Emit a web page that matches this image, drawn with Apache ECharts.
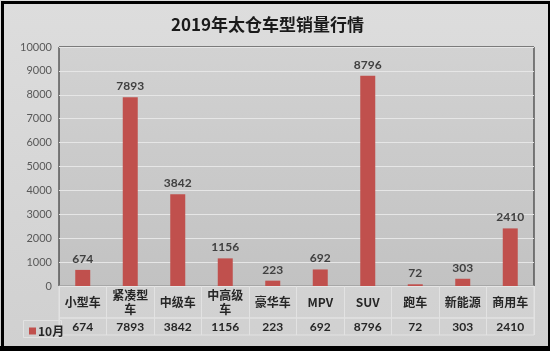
<!DOCTYPE html>
<html>
<head>
<meta charset="utf-8">
<script src="https://cdn.jsdelivr.net/npm/echarts@6/dist/echarts.min.js"></script>
<style>
  html, body { margin: 0; padding: 0; }
  #main { width: 550px; height: 351px; }
</style>
</head>
<body>
<div id="main"></div>
<script>
// 车型 / 10月销量
const categories = ['小型车', '紧凑型车', '中级车', '中高级车', '豪华车', 'MPV', 'SUV', '跑车', '新能源', '商用车'];
const sales = [674, 7893, 3842, 1156, 223, 692, 8796, 72, 303, 2410];
const seriesName = '10月';
const yTicks = { min: 0, max: 10000, interval: 1000 };

const chart = echarts.init(document.getElementById('main'));

const tableLine = '#e2e2e2';
const cjk = '"Noto Sans CJK SC", "Noto Sans", sans-serif';
const latin = 'Lato, "Noto Sans", sans-serif';

// 三个字以上的车型换行
const wrap = (s) => (s.length > 3 ? s.slice(0, 3) + '\n' + s.slice(3) : s);

const option = {
  backgroundColor: new echarts.graphic.LinearGradient(0, 0, 0, 1, [
    { offset: 0, color: '#dddddd' },
    { offset: 1, color: '#d0d0d0' }
  ]),
  title: {
    text: '2019年太仓车型销量行情',
    left: 166,
    top: 11,
    textStyle: { fontSize: 17, fontWeight: 'bold', color: '#1a1a1a', fontFamily: cjk }
  },
  legend: {
    data: [seriesName],
    left: 24,
    top: 320,
    icon: 'rect',
    itemWidth: 7,
    itemHeight: 7,
    itemGap: 2,
    textStyle: { fontSize: 12, fontWeight: 'bold', color: '#262626', fontFamily: cjk, padding: [0, 0, 0, -3] }
  },
  grid: [
    {
      left: 59, top: 47, width: 475, height: 239,
      show: true, borderColor: '#1a1a1a', borderWidth: 1,
      backgroundColor: new echarts.graphic.LinearGradient(0, 0, 0, 1, [
        { offset: 0, color: '#d2d2d2' },
        { offset: 1, color: '#c2c2c2' }
      ])
    },
    { left: 59, top: 286, width: 475, height: 32, show: true, borderColor: tableLine, borderWidth: 1 },
    { left: 59, top: 318, width: 475, height: 17, show: true, borderColor: tableLine, borderWidth: 1 }
  ],
  xAxis: [
    {
      gridIndex: 0, type: 'category', data: categories,
      axisLine: { show: false }, axisTick: { show: false }, axisLabel: { show: false }
    },
    {
      gridIndex: 1, type: 'category', data: categories, position: 'top',
      axisLine: { show: false }, axisTick: { show: false },
      splitLine: { show: true, interval: 0, lineStyle: { color: tableLine } },
      axisLabel: {
        inside: true, interval: 0, margin: 16, verticalAlign: 'middle',
        formatter: wrap, fontSize: 12, lineHeight: 14, fontWeight: 'bold',
        color: '#262626', fontFamily: cjk
      }
    },
    {
      gridIndex: 2, type: 'category', data: sales.map(String), position: 'bottom',
      axisLine: { show: false }, axisTick: { show: false },
      splitLine: { show: true, interval: 0, lineStyle: { color: tableLine } },
      axisLabel: {
        inside: true, interval: 0, margin: 8, verticalAlign: 'middle',
        fontSize: 12, fontWeight: 'bold', color: '#262626', fontFamily: latin
      }
    }
  ],
  yAxis: [
    {
      gridIndex: 0, type: 'value', min: yTicks.min, max: yTicks.max, interval: yTicks.interval,
      axisLine: { show: false }, axisTick: { show: false },
      splitLine: { lineStyle: { color: '#e6e6e6', width: 1 } },
      axisLabel: {
        fontSize: 11, color: '#595959', margin: 7, fontFamily: latin,
        formatter: (v) => String(v)
      }
    },
    { gridIndex: 1, type: 'value', show: false },
    { gridIndex: 2, type: 'value', show: false }
  ],
  series: [
    {
      name: seriesName,
      type: 'bar',
      xAxisIndex: 0,
      yAxisIndex: 0,
      data: sales,
      barWidth: 15,
      itemStyle: { color: '#c0504d' },
      label: {
        show: true, position: 'top', distance: 5,
        fontSize: 12, fontWeight: 'bold', color: '#404040', fontFamily: latin
      }
    }
  ],
  graphic: [
    {
      type: 'rect', left: 21, top: 318, silent: true,
      shape: { width: 38, height: 17 },
      style: { fill: 'none', stroke: tableLine, lineWidth: 1 }
    },
    {
      type: 'rect', left: 0, top: 0, silent: true,
      shape: { x: 1.5, y: 1.5, width: 547, height: 346 },
      style: { fill: 'none', stroke: '#000', lineWidth: 3 }
    },
    {
      type: 'rect', left: 0, top: 346, silent: true,
      shape: { width: 550, height: 5 },
      style: { fill: '#000' }
    }
  ]
};

chart.setOption(option);
</script>
</body>
</html>
